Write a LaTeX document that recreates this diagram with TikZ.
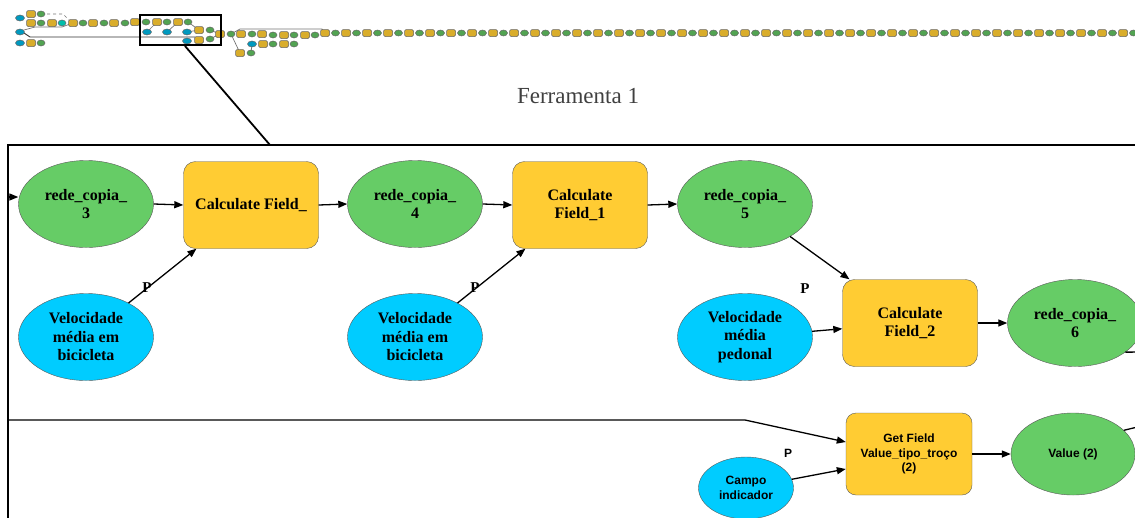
\documentclass[tikz,border=0pt]{standalone}
\usepackage{fontspec}
\setmainfont{Liberation Serif}
\newfontfamily\fontesans{Liberation Sans}
\usetikzlibrary{shapes.geometric, arrows.meta, positioning}
\definecolor{verdeDado}{RGB}{102, 204, 102}
\definecolor{azulParam}{RGB}{0, 204, 255}
\definecolor{amareloFerr}{RGB}{255, 204, 51}
\definecolor{turquesa}{RGB}{0, 190, 170}

\begin{document}
\begin{tikzpicture}[x=1pt, y=-1pt,
        dado/.style={ellipse, draw=black!65, fill=verdeDado, minimum width=135pt, minimum height=87pt, inner sep=0pt, align=center, font=\fontsize{16}{18.5}\selectfont\bfseries},
        param/.style={dado, fill=azulParam},
        ferr/.style={rectangle, rounded corners=12pt, draw=black!65, fill=amareloFerr, minimum width=135pt, minimum height=87pt, inner sep=0pt, align=center, font=\fontsize{16}{18.5}\selectfont\bfseries},
        sdado/.style={dado, minimum width=124pt, minimum height=82pt, font=\fontesans\fontsize{12}{14.5}\selectfont\bfseries},
        sparam/.style={sdado, fill=azulParam, minimum width=95pt, minimum height=62pt},
        sferr/.style={ferr, rounded corners=10pt, minimum width=126pt, minimum height=82pt, font=\fontesans\fontsize{12}{14.5}\selectfont\bfseries},
        liga/.style={->, line width=1.3pt, >={Triangle[length=9pt, width=7pt]}},
        rotulo/.style={inner sep=0pt, font=\fontsize{15}{15}\selectfont\bfseries},
        miniT/.style={rectangle, rounded corners=1.5pt, draw=black!60, fill=amareloFerr!85!black, minimum width=9pt, minimum height=7pt, inner sep=0pt, line width=0.5pt},
        miniD/.style={ellipse, draw=black!60, fill=verdeDado!80!black, minimum width=8pt, minimum height=6pt, inner sep=0pt, line width=0.5pt},
        miniP/.style={miniD, fill=azulParam!75!black, minimum width=9pt},
        miniL/.style={draw=black!55, line width=0.7pt}]

        \clip (0,0) rectangle (1135,517);

        % visao geral do modelo
        \draw[miniL, dashed] (41,14) -- (63,14) -- (70,21);
        \draw[miniL] (24,30) -- (35,27) -- (62,27) -- (70,24);
        \draw[miniL, line width=0.9pt, black!80] (24,33) -- (30,37) -- (195,37);
        \draw[miniL] (147,32) -- (157,22) (167,32) -- (178,22) (187,32) -- (199,30);
        \draw[miniL] (188,22) -- (199,30) (210,30) -- (220,34) (210,39) -- (220,34);
        \draw[miniL] (231,34) -- (240,29) -- (322,29) -- (325,33);
        \draw[miniL] (231,34) -- (240,53) (251,53) -- (252,44);
        \foreach \x/\y in {31/14, 31/23, 52/23, 73/23, 93/23, 114/23, 135/22, 157/22, 178/22, 199/30, 199/40, 220/34, 241/34, 262/34, 284/35, 305/35, 263/44, 284/44, 240/53, 31/43}
            \node[miniT] at (\x,\y) {};
        \foreach \x/\y in {41/14, 41/23, 83/23, 104/23, 125/23, 146/22, 167/22, 188/22, 210/30, 210/39, 231/34, 252/34, 273/35, 294/35, 315/35, 273/44, 294/44, 251/53, 41/43}
            \node[miniD] at (\x,\y) {};
        \foreach \x/\y in {20/18, 20/32, 20/43, 147/32, 167/32, 187/32, 187/41, 252/44}
            \node[miniP] at (\x,\y) {};
        \node[miniD, fill=turquesa] at (62,23) {};
        \foreach \i in {0,...,38} {
            \node[miniT] at (325+21*\i,33) {};
            \node[miniD] at (335.5+21*\i,33) {};
        }

        % lupa
        \node[draw, line width=2pt, minimum width=81pt, minimum height=30pt, inner sep=0pt] (lupa) at (180.5,30) {};
        \coordinate (quadro) at (270,145);
        \draw[line width=1.8pt] ([xshift=4.5pt]lupa.south) -- (quadro);

        \node[font=\fontsize{23}{23}\selectfont, text=black!75] (titulo) at (578,96) {Ferramenta 1};

        % quadro do detalhe
        \draw[line width=2pt] (8,530) -- (8,145) -- (1150,145);

        \node[dado] (rede3) at (86,204) {rede\_copia\_\\3};
        \node[ferr] (calc0) at (251,205) {Calculate Field\_};
        \node[param] (vbic1) at (86,337) {Velocidade\\média em\\bicicleta};
        \node[dado] (rede4) at (415,204) {rede\_copia\_\\4};
        \node[ferr] (calc1) at (580,205) {Calculate\\Field\_1};
        \node[param] (vbic2) at (415,337) {Velocidade\\média em\\bicicleta};
        \node[dado] (rede5) at (745,204) {rede\_copia\_\\5};
        \node[param] (vped) at (745,337) {Velocidade\\média\\pedonal};
        \node[ferr] (calc2) at (910,323) {Calculate\\Field\_2};
        \node[dado] (rede6) at (1075,323) {rede\_copia\_\\6};

        \node[sferr] (getv) at (909,454) {Get Field\\Value\_tipo\_troço\\(2)};
        \node[sparam] (campo) at (746,488) {Campo\\indicador};
        \node[sdado] (valor) at (1073,454) {Value (2)};

        \node[rotulo] (p1) at (147,288) {P};
        \node[rotulo] (p2) at (475,288) {P};
        \node[rotulo] (p3) at (805,289) {P};
        \node[rotulo, font=\fontesans\fontsize{12}{12}\selectfont\bfseries] (p4) at (788,453) {P};

        \coordinate (entradaA) at (9,197);
        \coordinate (entradaB) at (9,420);
        \coordinate (dobra) at (745,420);
        \coordinate (saidaA) at (1150,352);
        \coordinate (saidaB) at (1150,424);

        \draw[liga] (entradaA) -- (entradaA -| rede3.west);
        \draw[liga] (rede3.east) -- (calc0.west);
        \draw[liga] (calc0.east) -- (rede4.west);
        \draw[liga] (rede4.east) -- (calc1.west);
        \draw[liga] (calc1.east) -- (rede5.west);
        \draw[liga] (vbic1) -- (calc0);
        \draw[liga] (vbic2) -- (calc1);
        \draw[liga] (rede5) -- (calc2);
        \draw[liga] (vped) -- (calc2);
        \draw[liga] (calc2.east) -- (rede6.west);
        \draw[line width=1.3pt] (rede6.-30) -- (saidaA);
        \draw[liga] (entradaB) -- (dobra) -- ([yshift=12pt]getv.west);
        \draw[liga] (campo) -- ([yshift=-15pt]getv.west);
        \draw[liga] (getv.east) -- (valor.west);
        \draw[line width=1.3pt] (valor.25) -- (saidaB);
    \end{tikzpicture}
\end{document}
